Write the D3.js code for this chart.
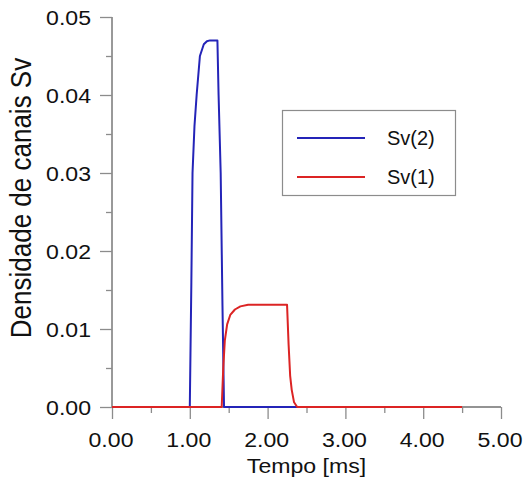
<!DOCTYPE html>
<html>
<head>
<meta charset="utf-8">
<script src="https://cdn.jsdelivr.net/npm/d3@7"></script>
<style>
  body { margin: 0; background: #fff; }
  text { font-family: "Liberation Sans", Arial, sans-serif; fill: #111; }
</style>
</head>
<body>
<div id="chart"></div>
<script>
// data
const sv2Time = [0, 1.0, 1.02, 1.035, 1.06, 1.088, 1.13, 1.18, 1.22, 1.26, 1.355, 1.37, 1.397, 1.42, 1.44, 2.4];
const sv2Val  = [0, 0, 0.016, 0.03, 0.036, 0.040, 0.045, 0.0465, 0.0469, 0.047, 0.047, 0.040, 0.030, 0.013, 0, 0];

const sv1Time = [0, 1.41, 1.43, 1.45, 1.48, 1.52, 1.58, 1.65, 1.75, 2.25, 2.27, 2.29, 2.31, 2.34, 2.38, 4.5];
const sv1Val  = [0, 0, 0.005, 0.0085, 0.0106, 0.0118, 0.0125, 0.0129, 0.0131, 0.0131, 0.008, 0.004, 0.0022, 0.0006, 0, 0];

const xTicks = [0, 1, 2, 3, 4, 5];
const xMinor = [0.5, 1.5, 2.5, 3.5, 4.5];
const yTicks = [0, 0.01, 0.02, 0.03, 0.04, 0.05];
const yMinor = [0.005, 0.015, 0.025, 0.035, 0.045];

const seriesNames = ["Sv(2)", "Sv(1)"];
const seriesColors = ["#2424b8", "#dc2424"];

const width = 525, height = 481;
const svg = d3.select("#chart").append("svg")
    .attr("width", width)
    .attr("height", height);

const x = d3.scaleLinear().domain([0, 5]).range([112, 501]);
const y = d3.scaleLinear().domain([0, 0.05]).range([407, 17]);

const axisColor = "#8c8c8c";
const stretch = 1.1;

// y axis (ticks point left)
const gy = svg.append("g").attr("transform", "translate(" + x(0) + ",0)");
gy.call(d3.axisLeft(y).tickValues(yTicks).tickSize(12).tickFormat(""));
gy.append("g").call(d3.axisLeft(y).tickValues(yMinor).tickSize(6).tickFormat(""));
gy.selectAll("path.domain").attr("d", "M0," + y(0) + "V" + y(0.05));

// x axis (ticks point down)
const gx = svg.append("g").attr("transform", "translate(0," + y(0) + ")");
gx.call(d3.axisBottom(x).tickValues(xTicks).tickSize(12).tickFormat(""));
gx.append("g").call(d3.axisBottom(x).tickValues(xMinor).tickSize(6).tickFormat(""));
gx.selectAll("path.domain").attr("d", "M" + x(0) + ",0H" + x(5));

svg.selectAll(".domain, .tick line")
    .attr("stroke", axisColor)
    .attr("stroke-width", 1.3);

// tick labels
svg.selectAll(".ylab")
    .data(yTicks)
    .enter()
    .append("g")
    .attr("transform", (d) => "translate(91," + y(d) + ") scale(" + stretch + ",1)")
    .append("text")
    .attr("text-anchor", "end")
    .attr("dy", "0.36em")
    .style("font-size", "21px")
    .text((d) => d.toFixed(2));

svg.selectAll(".xlab")
    .data(xTicks)
    .enter()
    .append("g")
    .attr("transform", (d) => "translate(" + (x(d) - 1) + ",447) scale(" + stretch + ",1)")
    .append("text")
    .attr("text-anchor", "middle")
    .style("font-size", "21px")
    .text((d) => d.toFixed(2));

// axis titles
svg.append("g")
    .attr("transform", "translate(" + ((x(0) + x(5)) / 2) + ",473) scale(1.1,1)")
    .append("text")
    .attr("text-anchor", "middle")
    .style("font-size", "21px")
    .text("Tempo [ms]");

svg.append("g")
    .attr("transform", "translate(31,198) scale(1.1,1) rotate(-90)")
    .append("text")
    .attr("text-anchor", "middle")
    .style("font-size", "26px")
    .text("Densidade de canais Sv");

// series
const line = d3.line()
    .x((d) => x(d[0]))
    .y((d) => y(d[1]));

const series = [
    d3.zip(sv2Time, sv2Val),
    d3.zip(sv1Time, sv1Val)
];

series.forEach(function(s, i) {
    svg.append("path")
        .datum(s)
        .attr("d", line)
        .attr("fill", "none")
        .attr("stroke", seriesColors[i])
        .attr("stroke-width", 2)
        .attr("stroke-linejoin", "round");
});

// legend
const legend = svg.append("g");
legend.append("rect")
    .attr("x", 282.5)
    .attr("y", 110.5)
    .attr("width", 173)
    .attr("height", 85)
    .attr("fill", "#fff")
    .attr("stroke", axisColor)
    .attr("stroke-width", 1.2);

const legendY = [138, 177];
seriesNames.forEach(function(name, i) {
    legend.append("line")
        .attr("x1", 297)
        .attr("x2", 365)
        .attr("y1", legendY[i])
        .attr("y2", legendY[i])
        .attr("stroke", seriesColors[i])
        .attr("stroke-width", 2);
    legend.append("text")
        .attr("x", 387)
        .attr("y", legendY[i] + 7)
        .style("font-size", "20px")
        .text(name);
});
</script>
</body>
</html>
